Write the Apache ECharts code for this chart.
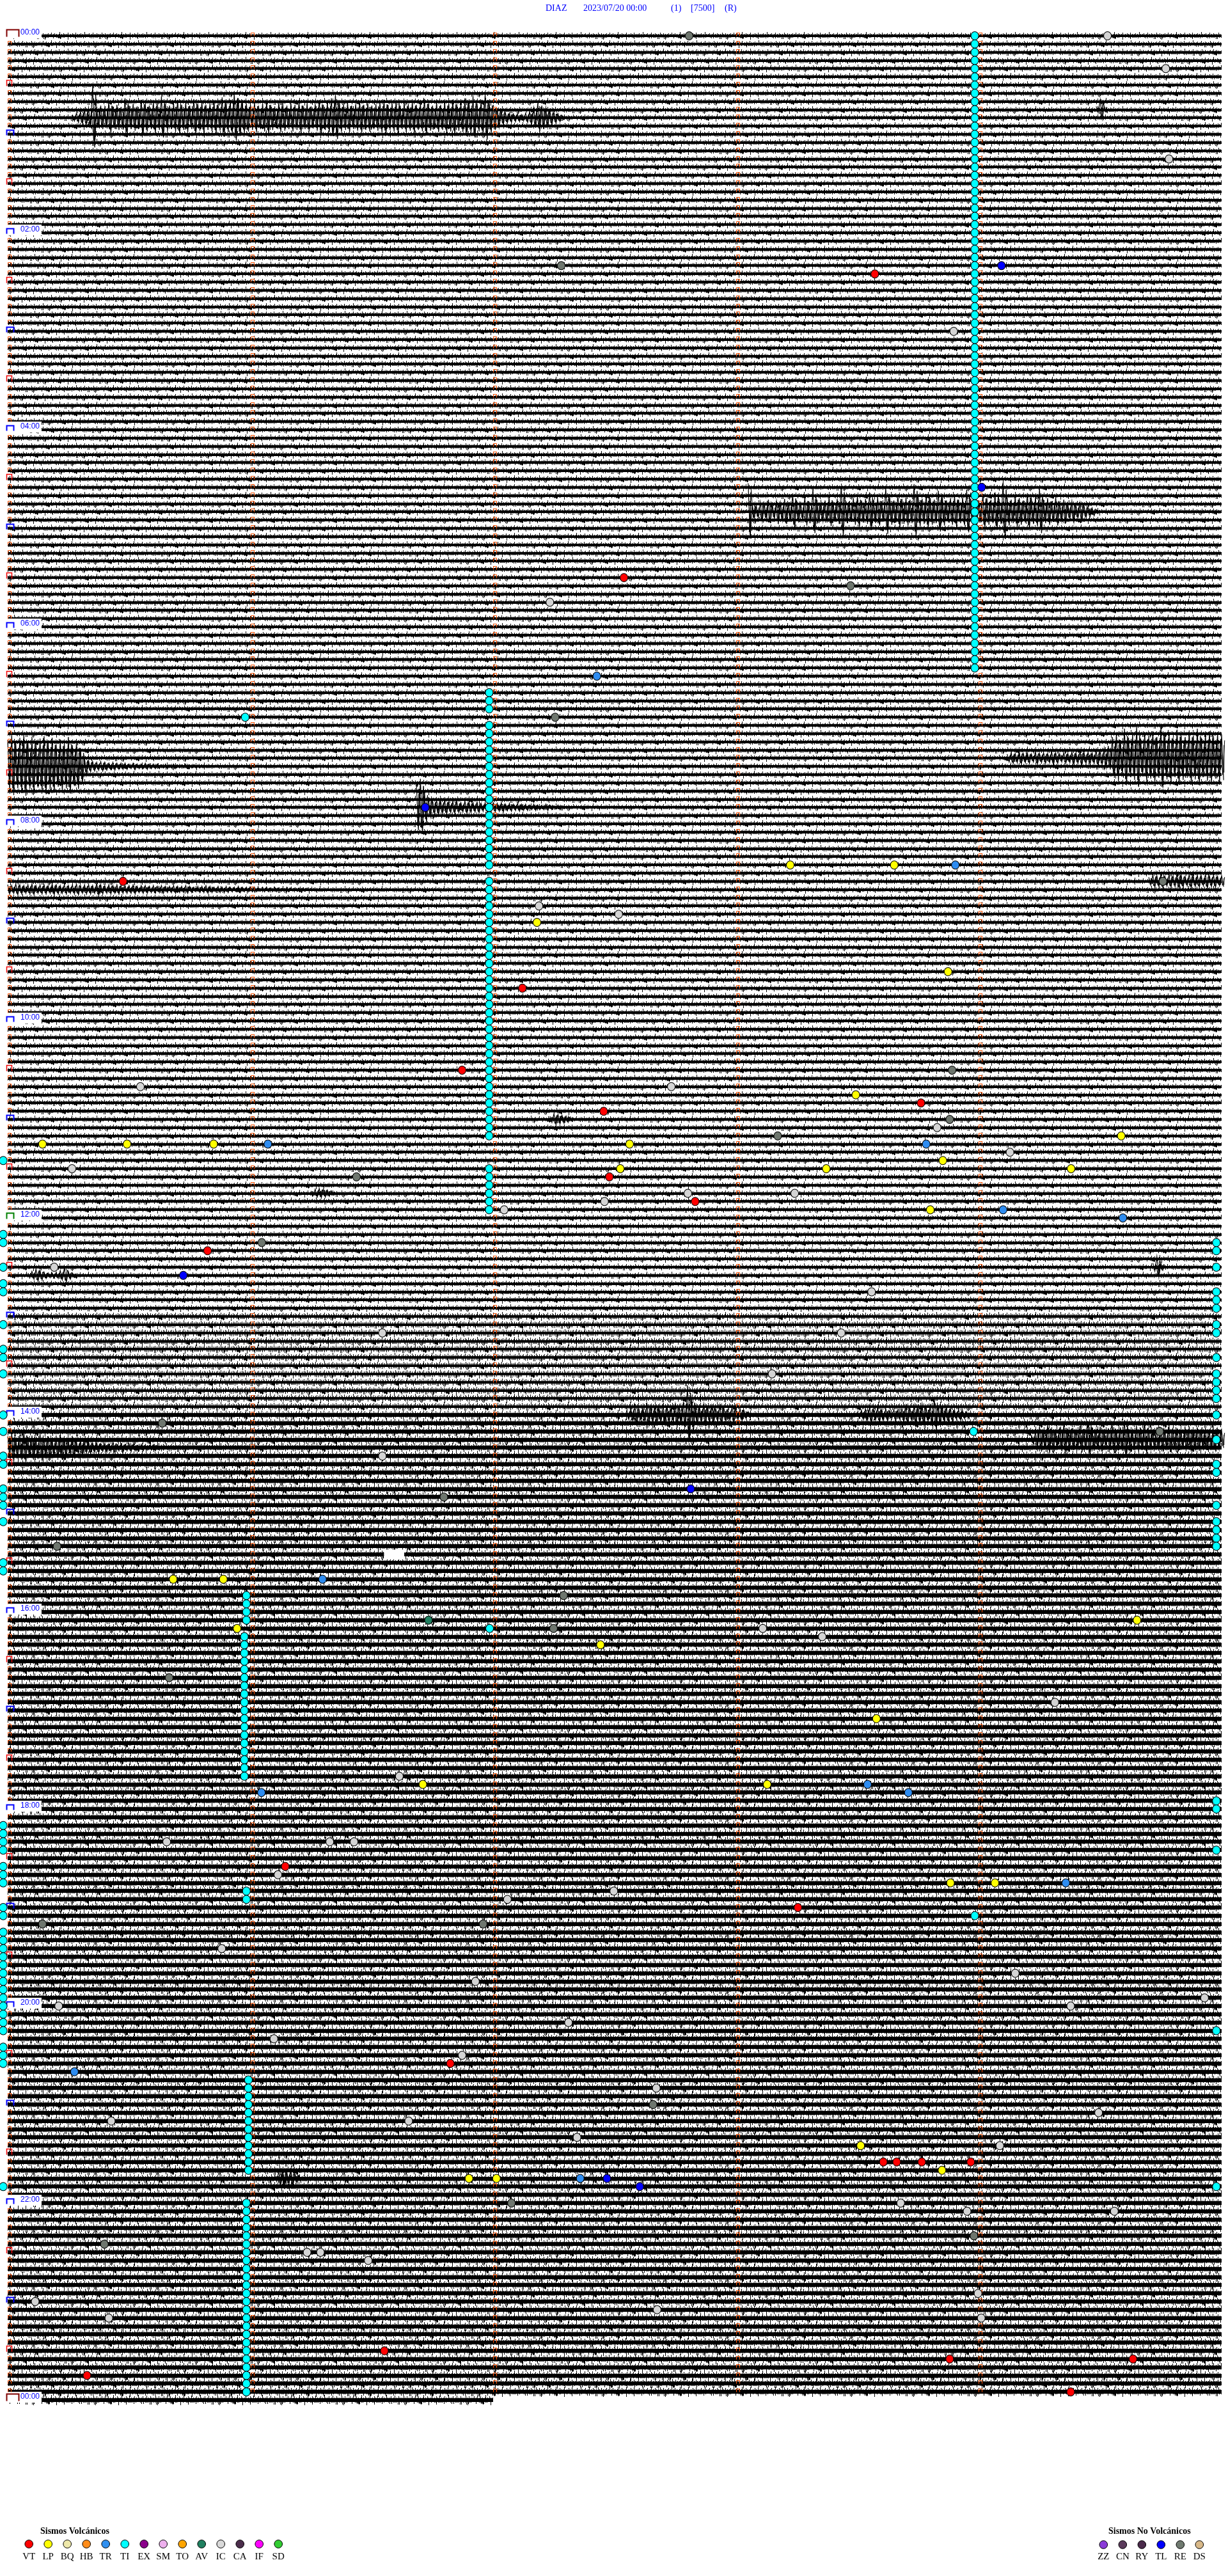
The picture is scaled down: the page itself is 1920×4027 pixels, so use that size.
<!DOCTYPE html>
<html><head><meta charset="utf-8">
<script src="https://cdn.jsdelivr.net/npm/echarts@6/dist/echarts.min.js"></script>
<style>html,body{margin:0;padding:0;background:#fff}#chart{width:1920px;height:4027px}</style>
</head><body><div id="chart"></div>
<script>
// ---------------- DATA ----------------
const titleParts = ['DIAZ', '2023/07/20 00:00', '(1)', '[7500]', '(R)'];
const hourLabels = ['00:00','02:00','04:00','06:00','08:00','10:00','12:00','14:00','16:00','18:00','20:00','22:00','00:00'];
const minuteMarks = [0, 60, 120, 180, 240];
const lineSeconds = 300;
const lastLineSeconds = 120;
// relative background-noise amplitude of the trace per hour (index 24 = final line)
const noiseByHour = [1,1,1,1,1,1,1,1,1,1,1,1,1,1.2,1.4,1.4,1.4,1.4,1.4,1.4,1.4,1.4,1.4,1.4,1.4];
// gaps in trace: [line, fromSec, toSec]
const traceGaps = [[185, 93, 98]];

// bursts: line, start second, envelope amplitude per second (trace-spacing units)
const burstLines  = [10, 58, 88, 89, 94, 103, 104, 132, 141, 150, 151, 168, 168, 171, 172, 261, 9];
const burstStarts = [16, 183, 247, 0, 101, 282, 0, 134, 75, 283, 5, 153, 210, 253, 0, 66, 269];
const burstAmps = [
  [0.4,0.6,0.8,1.0,1.2, 3.9, 1.3,1.5,1.2,2.0,1.4,1.6,1.3,2.4,1.5,
   1.7,1.4,2.2,1.8,1.5,2.0,1.6,2.6,1.7,1.5, 1.8,2.2,1.6,1.9,1.5,2.3,1.7,2.0,1.6,1.8,
   2.1,1.7,2.5,1.9,2.2,3.0,2.4,2.0,1.8,1.6, 1.9,1.5,1.8,2.1,1.6,1.4,1.9,1.7,1.5,1.8,
   1.6,2.0,1.5,1.8,1.4,1.7,2.2,1.6,1.9,2.4, 2.8,1.8,1.6,1.9,1.5,1.7,2.0,1.6,1.8,1.5,
   1.7,1.9,2.2,1.6,1.8,2.1,1.5,1.9,1.7,2.0, 1.6,1.8,2.3,1.7,1.5,1.9,1.6,2.0,1.8,2.2,
   1.7,1.9,2.4,2.0,2.6,1.8,2.2,2.9,2.0,1.6, 1.2,0.9,0.7,0.6,0.5,0.5,0.4,0.6,0.8,1.2,
   1.8,1.5,1.2,0.9,0.7,0.5,0.3],
  [3.5,1.0,0.8,1.2,1.0,1.5,0.9,1.3,1.1,
   1.6,1.2,2.2,1.4,1.0,1.8,1.3,2.8,1.5,1.2, 1.4,1.9,1.2,1.6,3.2,1.5,1.3,1.7,2.0,1.4,
   1.6,2.4,1.5,1.8,1.3,2.9,1.7,1.4,2.1,1.6, 1.8,1.5,3.4,1.9,1.6,2.2,1.7,1.5,2.6,1.8,
   1.4,1.7,2.0,1.5,1.8,2.7,1.6,1.9,1.4,2.2, 1.7,1.5,2.4,1.6,3.6,1.8,1.5,2.0,1.7,1.4,
   2.3,1.6,1.9,2.8,1.5,1.7,1.3,1.8,1.2,1.5, 1.0,1.3,0.9,1.1,0.8,0.6,0.5,0.3],
  [0.5,0.7,0.6,0.8,0.6,0.7,0.5,0.8,0.6,0.7, 0.6,0.8,0.7,0.5,0.7,0.6,0.8,0.7,0.9,0.7,
   0.8,0.7,1.0,0.9,1.2,1.5, 2.6,3.0,2.2,3.6,2.5,2.9,3.8,2.4,3.1,2.7,
   3.3,2.6,3.9,2.8,3.2,2.5,3.5,2.9,2.6,3.4, 2.8,3.6,2.5,3.0,3.3,2.7,3.1,2.9],
  [3.2,3.8,2.9,3.5,3.9,3.0,3.6,2.8,3.4,3.7, 3.1,3.5,2.7,3.3,2.9,3.6,2.6,3.0,2.2,
   1.0,0.7,0.6,0.5,0.6,0.5,0.4,0.5,0.4,0.4, 0.4,0.3,0.4,0.3,0.3,0.4,0.3,0.3,0.3,0.2,
   0.3,0.2,0.3,0.2,0.2,0.3,0.2,0.2,0.2,0.2],
  [3.0,3.5,2.0,1.2,0.9,1.0,0.8,0.9,0.7,0.8, 0.7,0.6,0.8,0.7,0.6,0.7,0.5,0.6,0.5,0.6,
   0.5,0.6,0.4,0.5,0.4,0.5,0.4,0.4,0.3,0.4, 0.3,0.3,0.4,0.3,0.2,0.3,0.2],
  [0.5,0.8,0.7,0.9,0.6,0.8,0.7,1.0,0.8,0.6,0.9,0.7,0.8,0.6,0.9,0.7,0.8,0.6,0.7],
  [0.6,0.5,0.7,0.6,0.5,0.6,0.7,0.5,0.6,0.6, 0.5,0.7,0.6,0.5,0.6,0.5,0.6,0.7,0.5,0.6,
   0.6,0.5,0.8,0.6,0.5,0.6,0.5,0.6,0.5,0.5, 0.5,0.6,0.4,0.5,0.5,0.4,0.5,0.4,0.5,0.4,
   0.4,0.5,0.4,0.4,0.5,0.4,0.3,0.4,0.4,0.5, 0.4,0.3,0.4,0.3,0.4,0.3,0.3,0.4,0.3,0.3,
   0.3,0.3,0.2,0.3,0.3,0.2,0.3,0.2,0.2,0.3, 0.2,0.2,0.2,0.2,0.2,0.1,0.1],
  [0.4,0.7,0.6,0.5,0.4,0.3],
  [0.3,0.5,0.6,0.5,0.4,0.3],
  [0.5,1.3,0.5],
  [0.3,0.5,0.8,0.6,0.4,0.3,0.3,0.4,0.6,0.9,0.5,0.3],
  [0.6,0.9,1.2,0.8,1.0,1.3,0.9,1.1,0.8,1.2, 1.0,0.9,1.3,1.1,1.6,3.6,2.0,1.2,1.0,1.3,
   0.9,1.1,0.8,1.2,0.9,0.7,1.0,0.6,0.8,0.5,0.4],
  [0.4,0.6,0.8,1.0,0.7,0.9,0.6,0.8,0.5,0.7, 0.6,0.9,1.1,0.8,1.2,1.0,1.3,0.9,1.1,2.0,
   1.2,0.9,1.0,0.8,0.6,0.7,0.5,0.4],
  [0.6,1.0,1.6,1.2,1.8,1.3,1.0,1.5,1.9,1.2, 1.4,1.1,1.7,1.3,2.2,1.5,1.2,1.6,1.0,1.4,
   1.8,1.2,1.5,2.4,1.3,1.1,1.6,1.4,1.9,1.2, 1.0,1.5,1.3,1.1,1.7,1.2,1.4,1.0,1.3,1.6,
   1.2,1.5,1.1,1.4,1.0,1.3,1.2,1.1],
  [1.4,1.8,1.2,1.6,2.0,1.3,1.5,1.1,1.7,1.2, 1.4,1.0,1.3,1.6,1.1,0.9,1.2,0.8,1.0,0.7,
   0.8,0.6,0.7,0.5,0.6,0.5,0.7,0.4,0.5,0.4, 0.5,0.4,0.3,0.4,0.3,0.3,0.4,0.3,0.3,0.2,0.2],
  [0.4,0.9,1.1,0.8,1.0,0.6,0.3],
  [0.4,1.2,0.4]
];

// events: [line, second]
const eventsVT = [[29,214.3],[66,152.3],[103,28.5],[116,127.2],[126,112.3],[130,225.7],[131,147.3],[139,148.7],[142,169.9],[148,49.4],[223,68.6],[228,195.3],[247,109.4],[259,216.4],[259,219.7],[259,225.9],[259,238],[282,93.1],[283,232.8],[283,278.1],[285,19.6],[287,262.7]];
const eventsLP = [[101,193.4],[101,219.1],[108,130.8],[114,232.4],[129,209.6],[134,275.2],[135,8.6],[135,29.5],[135,50.9],[135,153.7],[137,231.1],[138,151.4],[138,202.3],[138,262.8],[143,228.0],[188,40.9],[188,53.3],[193,279.1],[194,56.7],[196,146.5],[205,214.7],[213,102.6],[213,187.7],[225,233],[225,244],[257,210.8],[260,230.9],[261,114],[261,120.8]];
const eventsTR = [[78,145.6],[101,234.2],[135,64.3],[135,227.0],[143,246.0],[144,275.6],[188,77.8],[213,212.5],[214,62.7],[214,222.6],[225,261.5],[248,16.5],[261,141.5]];
const eventsTL = [[28,245.6],[55,240.7],[94,103.2],[151,43.4],[177,168.8],[261,148.1],[262,156.2]];
const eventsAV = [[193,104]];
const eventsRE = [[0,168.4],[28,136.8],[67,208.3],[83,135.3],[103,285.5],[126,233.4],[132,232.8],[134,190.3],[139,86.2],[147,62.8],[169,38.2],[170,284.7],[178,107.8],[184,12.2],[190,137.4],[194,134.9],[200,39.9],[230,8.6],[230,117.5],[252,159.5],[264,124.5],[268,238.8],[269,23.9]];
const eventsIC = [[0,271.8],[4,286.2],[15,287.0],[36,233.8],[69,134.0],[106,131.3],[107,151.0],[128,32.8],[128,164.0],[133,229.7],[136,247.7],[138,15.9],[141,168.1],[141,194.5],[142,147.5],[143,122.7],[150,11.5],[153,213.5],[158,92.6],[158,206.0],[163,188.9],[173,92.6],[194,186.6],[195,201.3],[203,258.8],[212,96.8],[220,39.3],[220,79.6],[220,85.6],[224,66.8],[226,149.8],[227,123.5],[233,52.9],[236,249.0],[237,115.6],[239,295.8],[240,12.6],[240,262.7],[242,138.6],[244,65.8],[246,112.3],[250,160.3],[253,269.6],[254,25.6],[254,99.1],[256,140.7],[257,245.2],[264,220.7],[265,237.1],[265,273.5],[270,74.0],[270,77.3],[271,89.1],[275,239.8],[276,6.8],[277,160.5],[278,25.0],[278,240.6]];
// TI: runs of consecutive lines [second, firstLine, lastLine], singles, and line-edge events
const tiRuns = [[239,0,77],[119,80,82],[119,84,101],[119,103,134],[119,138,143],[59,190,193],[58.5,195,212],[59,226,227],[59.5,249,260],[59,264,287]];
const tiSingles = [[83,58.7],[170,238.7],[194,119.1],[229,239.0]];
const tiLeftSec = -1.1, tiRightSec = 298.7;
const tiLeftEdge = [137,146,147,150,152,153,157,160,161,163,168,170,173,174,177,178,179,181,186,187,218,219,220,221,223,224,225,228,229,231,232,233,234,235,236,237,238,239,240,241,242,243,245,246,247,262];
const tiRightEdge = [147,148,150,153,154,155,157,158,161,163,164,165,166,168,171,174,175,179,181,182,183,184,215,216,221,243,262];

// legend
const volcanicCodes  = ['VT','LP','BQ','HB','TR','TI','EX','SM','TO','AV','IC','CA','IF','SD'];
const volcanicColors = ['#ff0000','#ffff00','#eee8aa','#ff8c1a','#3090f0','#00ffff','#8b008b','#eeb0ee','#ffa500','#208060','#d8d8d8','#4b2d4b','#ff00ff','#32cd32'];
const nonVolcanicCodes  = ['ZZ','CN','RY','TL','RE','DS'];
const nonVolcanicColors = ['#8a3ad8','#5a3a5a','#4a2a4a','#0000ff','#707a70','#d8b888'];

// ---------------- STYLE ----------------
// hand-made hairline texture (half-heights in px) used to draw the background noise band
const noiseTexture = [2,3,2,2,4,2,3,2,2,5,2,2,3,2,2,3,2,4,2,2,3,2,2,6,2,3,2,2,3,2,4,2,2,2,3,2,5,2,2,3,2,2,4,2,3,2,2,3,2,2,5,2,3,2,2,4,2,2,3,2,2,3,2,4,2,2,3,2,5,2,2,3,2,4,2,2,3,2,2,2,3,6,2,2,3,2,2,4,2,3,2,2,3,2,5,2,2];

// ---------------- RENDER ----------------
const N_LINES = 288;
const texCache = {};
function traceTexture(width, variant, scale) {
  const key = width + '_' + variant + '_' + scale;
  if (texCache[key]) return texCache[key];
  const N = noiseTexture.length;
  const mid = Math.ceil(6 * scale) + 1;
  const c = document.createElement('canvas'); c.width = width; c.height = 2 * mid + 2;
  const g = c.getContext('2d'); g.fillStyle = '#000';
  for (let x = 0; x < width; x++) {
    const up = Math.round(noiseTexture[(x + variant * 13) % N] * scale);
    const dn = Math.round(noiseTexture[(x * 7 + variant * 29 + 5) % N] * scale);
    g.fillRect(x, mid - up, 1, up + dn);
  }
  texCache[key] = { canvas: c, mid };
  return texCache[key];
}

const traceData = [];
for (let l = 0; l <= N_LINES; l++) {
  traceData.push([0, l, l === N_LINES ? lastLineSeconds : lineSeconds, noiseByHour[Math.floor(l / 12)]]);
}
function renderTrace(params, api) {
  const line = api.value(1), end = api.value(2), sc = api.value(3);
  const p0 = api.coord([0, line]), p1 = api.coord([end, line]);
  const w = Math.round(p1[0] - p0[0]);
  const t = traceTexture(w, line % 7, sc);
  return { type: 'image', style: { image: t.canvas, x: Math.round(p0[0]), y: Math.round(p0[1]) - t.mid, width: w, height: t.canvas.height } };
}

const burstData = burstLines.map((l, i) => [burstStarts[i], l, i]);
function renderBurst(params, api) {
  const i = api.value(2);
  const line = burstLines[i], t0 = burstStarts[i], amps = burstAmps[i];
  const a = [], b = [], kids = [];
  amps.forEach((v, k) => {
    const t = t0 + k;
    a.push(api.coord([t, line - v]));
    a.push(api.coord([t + 0.5, line + v * 0.92]));
    b.push(api.coord([t + 0.25, line + v * 0.7]));
    b.push(api.coord([t + 0.75, line - v * 0.75]));
    const q0 = api.coord([t + 0.6, line - v * 0.55]), q1 = api.coord([t + 0.6, line + v * 0.6]);
    kids.push({ type: 'line', shape: { x1: q0[0], y1: q0[1], x2: q1[0], y2: q1[1] }, style: { stroke: '#000', lineWidth: 1 } });
  });
  kids.push({ type: 'polyline', shape: { points: a }, style: { stroke: '#000', lineWidth: 1.2, fill: null } });
  kids.push({ type: 'polyline', shape: { points: b }, style: { stroke: '#000', lineWidth: 1, fill: null } });
  return { type: 'group', children: kids };
}

const gapData = traceGaps.map(g => [g[1], g[0], g[2]]);
function renderGap(params, api) {
  const line = api.value(1);
  const p0 = api.coord([api.value(0), line - 0.6]), p1 = api.coord([api.value(2), line + 0.6]);
  return { type: 'rect', shape: { x: p0[0], y: p0[1], width: p1[0] - p0[0], height: p1[1] - p0[1] }, style: { fill: '#fff' } };
}

// markers: kind 0 minute, 1 half hour, 2 hour, 3 midnight, 4 noon
const markerData = [];
for (let l = 0; l <= N_LINES; l++) {
  let kind0 = 0;
  if (l % 144 === 0) kind0 = (l === 144 ? 4 : 3);
  else if (l % 12 === 0) kind0 = 2;
  else if (l % 6 === 0) kind0 = 1;
  markerData.push([0, l, kind0]);
  if (l < N_LINES) minuteMarks.slice(1).forEach(m => markerData.push([m, l, 0]));
}
function renderMarker(params, api) {
  const p = api.coord([api.value(0), api.value(1)]);
  const k = api.value(2);
  const x = Math.round(p[0]) + 0.5, y = Math.round(p[1]) + 0.5;
  let pts, stroke, lw;
  if (k === 0) { pts = [[x, y], [x, y - 5], [x + 5, y - 5], [x + 5, y]]; stroke = '#ff5000'; lw = 1; }
  else if (k === 1) { pts = [[x - 2, y + 1], [x - 2, y - 8], [x + 6, y - 8], [x + 6, y + 1]]; stroke = '#f00000'; lw = 1.5; }
  else if (k === 2) { pts = [[x - 2, y + 1], [x - 2, y - 7], [x + 9, y - 7], [x + 9, y + 1]]; stroke = '#0000ff'; lw = 2; }
  else if (k === 4) { pts = [[x - 2, y + 1], [x - 2, y - 8], [x + 9, y - 8], [x + 9, y + 1]]; stroke = '#008000'; lw = 2; }
  else { pts = [[x - 2, y + 1], [x - 2, y - 10], [x + 17, y - 10], [x + 17, y + 1]]; stroke = '#800000'; lw = 2; }
  return { type: 'polyline', shape: { points: pts }, style: { stroke, lineWidth: lw, fill: null } };
}

const labelData = hourLabels.map((t, i) => [0, i * 24, i]);
function renderLabel(params, api) {
  const p = api.coord([0, api.value(1)]);
  const x = Math.round(p[0]), y = Math.round(p[1]);
  return { type: 'group', children: [
    { type: 'rect', shape: { x: x - 3, y: y - 13, width: 56, height: 17 }, style: { fill: '#fff' } },
    { type: 'text', x: x + 20, y: y - 5,
      style: { text: hourLabels[api.value(2)], fill: '#0000ff', font: '12px "Liberation Sans", Arial, sans-serif', align: 'left', verticalAlign: 'middle' } }
  ]};
}

const tiData = [];
tiRuns.forEach(r => { for (let l = r[1]; l <= r[2]; l++) tiData.push([r[0], l]); });
tiSingles.forEach(d => tiData.push([d[1], d[0]]));
tiLeftEdge.forEach(l => tiData.push([tiLeftSec, l]));
tiRightEdge.forEach(l => tiData.push([tiRightSec, l]));

function scatter(name, data, color, z) {
  return { type: 'scatter', name, data, symbol: 'circle', symbolSize: [12, 13], clip: false, z: z || 6, silent: true,
    itemStyle: { color, borderColor: '#000', borderWidth: 1, opacity: 1 }, emphasis: { disabled: true } };
}
const sw = d => d.map(e => [e[1], e[0]]);

const graphic = [];
const titleX = [853, 912, 1049, 1080, 1133];
titleParts.forEach((t, i) => graphic.push({ type: 'text', x: titleX[i], y: 13,
  style: { text: t, fill: '#0000ff', font: '14px "Liberation Serif", serif', verticalAlign: 'middle' } }));
graphic.push({ type: 'text', x: 63, y: 3957, style: { text: 'Sismos Volcánicos', fill: '#000', font: 'bold 14px "Liberation Serif", serif', verticalAlign: 'middle' } });
volcanicCodes.forEach((c, i) => {
  const cx = 45.2 + i * 30.0;
  graphic.push({ type: 'circle', shape: { cx, cy: 3977, r: 6.3 }, style: { fill: volcanicColors[i], stroke: '#000', lineWidth: 1 } });
  graphic.push({ type: 'text', x: cx, y: 3997, style: { text: c, fill: '#000', font: '15px "Liberation Serif", serif', align: 'center', verticalAlign: 'middle' } });
});
graphic.push({ type: 'text', x: 1733, y: 3957, style: { text: 'Sismos No Volcánicos', fill: '#000', font: 'bold 14px "Liberation Serif", serif', verticalAlign: 'middle' } });
nonVolcanicCodes.forEach((c, i) => {
  const cx = 1725.3 + i * 30.0;
  graphic.push({ type: 'circle', shape: { cx, cy: 3978, r: 6.3 }, style: { fill: nonVolcanicColors[i], stroke: '#000', lineWidth: 1 } });
  graphic.push({ type: 'text', x: cx, y: 3997, style: { text: c, fill: '#000', font: '15px "Liberation Serif", serif', align: 'center', verticalAlign: 'middle' } });
});

const chart = echarts.init(document.getElementById('chart'), null, { renderer: 'canvas', width: 1920, height: 4027 });
chart.setOption({
  animation: false,
  backgroundColor: '#ffffff',
  grid: { left: 12, right: 10, top: 56, bottom: 275 },
  xAxis: { type: 'value', min: 0, max: 300, show: false },
  yAxis: { type: 'value', min: 0, max: 288, inverse: true, show: false },
  graphic,
  series: [
    { type: 'custom', name: 'traces', data: traceData, renderItem: renderTrace, z: 1, silent: true },
    { type: 'custom', name: 'bursts', data: burstData, renderItem: renderBurst, z: 2, silent: true },
    { type: 'custom', name: 'gaps', data: gapData, renderItem: renderGap, z: 3, silent: true },
    { type: 'custom', name: 'labels', data: labelData, renderItem: renderLabel, z: 3, silent: true },
    { type: 'custom', name: 'markers', data: markerData, renderItem: renderMarker, z: 4, silent: true },
    scatter('TI', tiData, '#00ffff'),
    scatter('IC', sw(eventsIC), '#d4d4d4'),
    scatter('RE', sw(eventsRE), '#6e766e'),
    scatter('LP', sw(eventsLP), '#ffff00'),
    scatter('TR', sw(eventsTR), '#2e8cf0'),
    scatter('AV', sw(eventsAV), '#208060'),
    scatter('VT', sw(eventsVT), '#ff0000'),
    scatter('TL', sw(eventsTL), '#0000ff')
  ]
});
</script></body></html>
